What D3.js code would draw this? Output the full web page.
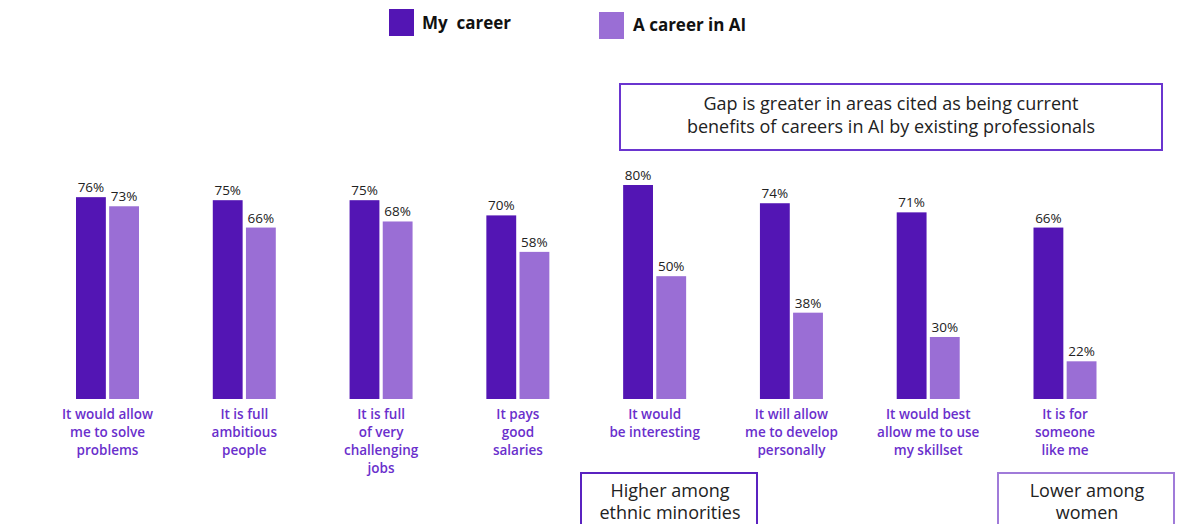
<!DOCTYPE html>
<html>
<head>
<meta charset="utf-8">
<script src="https://cdn.jsdelivr.net/npm/d3@7"></script>
<style>
  html, body { margin: 0; padding: 0; background: #ffffff; }
  svg { display: block; }
</style>
</head>
<body>
<svg id="chart" width="1191" height="524"></svg>
<script>
// Survey categories (each split into its display lines)
const categories = [
  ["It would allow", "me to solve", "problems"],
  ["It is full", "ambitious", "people"],
  ["It is full", "of very", "challenging", "jobs"],
  ["It pays", "good", "salaries"],
  ["It would", "be interesting"],
  ["It will allow", "me to develop", "personally"],
  ["It would best", "allow me to use", "my skillset"],
  ["It is for", "someone", "like me"]
];
const seriesNames = ["My  career", "A career in AI"];
const myCareer = [76, 75, 75, 70, 80, 74, 71, 66];
const careerInAI = [73, 66, 68, 58, 50, 38, 30, 22];

const colors = ["#5315b4", "#9a6ed5"];
const labelPurple = "#6a2fcc";
const textDark = "#222222";

const svg = d3.select("#chart");
const keys = categories.map((c, i) => i);

// Group centres along the axis
const x = d3.scalePoint().domain(keys).range([107.5, 1065]);
// Bars inside each group
const xInner = d3.scaleBand().domain([0, 1]).range([-31.5, 31.5]).paddingInner(0.1);
// Value axis (bars rise from a common baseline)
const y = d3.scaleLinear().domain([9.6, 80]).range([399, 185]);
const baseY = y(9.6);

const seriesValues = [myCareer, careerInAI];

const groups = svg.append("g").selectAll("g.group")
  .data(keys)
  .join("g")
  .attr("class", "group")
  .attr("transform", d => `translate(${x(d)},0)`);

seriesValues.forEach((vals, s) => {
  groups.append("rect")
    .attr("x", xInner(s))
    .attr("width", xInner.bandwidth())
    .attr("y", d => y(vals[d]))
    .attr("height", d => baseY - y(vals[d]))
    .attr("fill", colors[s]);

  groups.append("text")
    .attr("x", xInner(s) + xInner.bandwidth() / 2)
    .attr("y", d => y(vals[d]) - 5)
    .attr("text-anchor", "middle")
    .attr("font-family", "'Open Sans', sans-serif")
    .attr("font-size", 13.5)
    .attr("fill", textDark)
    .text(d => vals[d] + "%");
});

// Category labels below the bars
groups.append("text")
  .attr("text-anchor", "middle")
  .attr("font-family", "'Open Sans', sans-serif")
  .attr("font-weight", 600)
  .attr("font-size", 13.5)
  .attr("fill", labelPurple)
  .selectAll("tspan")
  .data(d => categories[d])
  .join("tspan")
  .attr("x", 0)
  .attr("y", (t, i) => 419 + i * 18)
  .text(t => t);

// Legend
const legendItems = [
  { name: seriesNames[0], sx: 389, sy: 9, tx: 422, ty: 29 },
  { name: seriesNames[1], sx: 599, sy: 12, tx: 633, ty: 31 }
];
const legend = svg.append("g");
legendItems.forEach((it, i) => {
  legend.append("rect")
    .attr("x", it.sx).attr("y", it.sy)
    .attr("width", 25).attr("height", 27)
    .attr("fill", colors[i]);
  legend.append("text")
    .attr("x", it.tx).attr("y", it.ty)
    .attr("font-family", "'Open Sans', sans-serif")
    .attr("font-weight", 700)
    .attr("font-size", 17)
    .attr("fill", "#111")
    .style("white-space", "pre")
    .text(it.name);
});

// Annotation boxes
function noteBox(bx, by, bw, bh, stroke, lines, cx, firstBaseline, lineGap) {
  const g = svg.append("g");
  g.append("rect")
    .attr("x", bx).attr("y", by)
    .attr("width", bw).attr("height", bh)
    .attr("fill", "none")
    .attr("stroke", stroke)
    .attr("stroke-width", 2);
  g.append("text")
    .attr("text-anchor", "middle")
    .attr("font-family", "'Open Sans', sans-serif")
    .attr("font-size", 18)
    .attr("fill", textDark)
    .selectAll("tspan")
    .data(lines)
    .join("tspan")
    .attr("x", cx)
    .attr("y", (t, i) => firstBaseline + i * lineGap)
    .text(t => t);
}

noteBox(620, 84, 542, 66, "#6a35cf",
  ["Gap is greater in areas cited as being current",
   "benefits of careers in AI by existing professionals"], 891, 110, 23);
noteBox(581, 473, 176, 60, "#5a22c0",
  ["Higher among", "ethnic minorities"], 670, 497, 22);
noteBox(998, 473, 176, 60, "#a07bd9",
  ["Lower among", "women"], 1087, 497, 22);
</script>
</body>
</html>
